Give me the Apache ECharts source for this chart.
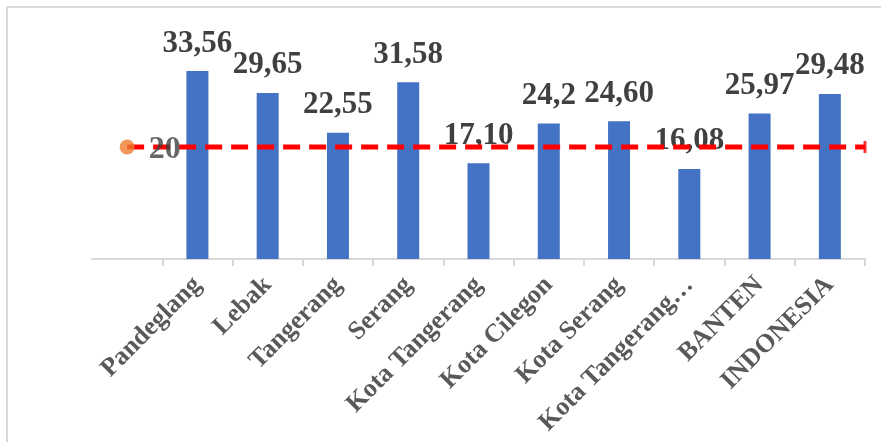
<!DOCTYPE html>
<html>
<head>
<meta charset="utf-8">
<script src="https://cdn.jsdelivr.net/npm/echarts@6/dist/echarts.min.js"></script>
<style>
html,body{margin:0;padding:0;background:#fff;}
#chart{width:881px;height:442px;}
</style>
</head>
<body>
<div id="chart"></div>
<script>
const categories = ['', 'Pandeglang', 'Lebak', 'Tangerang', 'Serang', 'Kota Tangerang', 'Kota Cilegon', 'Kota Serang', 'Kota Tangerang…', 'BANTEN', 'INDONESIA'];
const values = [null, 33.56, 29.65, 22.55, 31.58, 17.10, 24.2, 24.60, 16.08, 25.97, 29.48];
const valueLabels = ['', '33,56', '29,65', '22,55', '31,58', '17,10', '24,2', '24,60', '16,08', '25,97', '29,48'];
const refValue = 20;
const refLabel = '20';
const refStartX = 0.5;
const refEndX = 11;

const chart = echarts.init(document.getElementById('chart'));
const serif = '"Liberation Serif", "Times New Roman", serif';

chart.setOption({
  animation: false,
  backgroundColor: '#ffffff',
  grid: { left: 92, right: 16, top: 35, bottom: 183, containLabel: false },
  xAxis: [
    {
      type: 'category',
      data: categories,
      boundaryGap: true,
      axisLine: { lineStyle: { color: '#D9D9D9', width: 2 } },
      axisTick: { show: true, length: 7, lineStyle: { color: '#D9D9D9', width: 2 }, interval: (i) => i !== 0 },
      axisLabel: {
        interval: 0, rotate: 45, margin: 22,
        fontFamily: serif, fontWeight: 'bold', fontSize: 26, color: '#595959'
      }
    },
    { type: 'value', min: 0, max: 11, show: false }
  ],
  yAxis: { type: 'value', min: 0, max: 40, show: false },
  graphic: [
    { type: 'line', shape: { x1: 7, y1: 7, x2: 881, y2: 7 }, style: { stroke: '#D9D9D9', lineWidth: 2 } },
    { type: 'line', shape: { x1: 7, y1: 7, x2: 7, y2: 442 }, style: { stroke: '#D9D9D9', lineWidth: 2 } }
  ],
  series: [
    {
      type: 'bar',
      data: values,
      barWidth: 22,
      itemStyle: { color: '#4472C4' },
      label: {
        show: true, position: 'top', distance: 12,
        fontFamily: serif, fontWeight: 'bold', fontSize: 31, color: '#404040',
        formatter: p => valueLabels[p.dataIndex]
      },
      z: 2
    },
    {
      type: 'line',
      xAxisIndex: 1,
      data: [[refStartX, refValue], [refEndX, refValue]],
      lineStyle: { color: '#FF0000', width: 5, type: [17, 9] },
      symbol: 'none',
      z: 3
    },
    {
      type: 'scatter',
      xAxisIndex: 1,
      data: [[refStartX, refValue]],
      symbol: 'circle', symbolSize: 15,
      itemStyle: { color: '#ED7D31' },
      label: {
        show: true, position: 'right', distance: 14,
        fontFamily: serif, fontWeight: 'bold', fontSize: 32, color: '#404040',
        formatter: () => refLabel, offset: [0, 3]
      },
      z: 4
    },
    {
      type: 'scatter',
      xAxisIndex: 1,
      data: [[refEndX, refValue]],
      symbol: 'rect', symbolSize: [3, 12],
      itemStyle: { color: '#FF0000' },
      z: 4
    }
  ]
});
</script>
</body>
</html>
